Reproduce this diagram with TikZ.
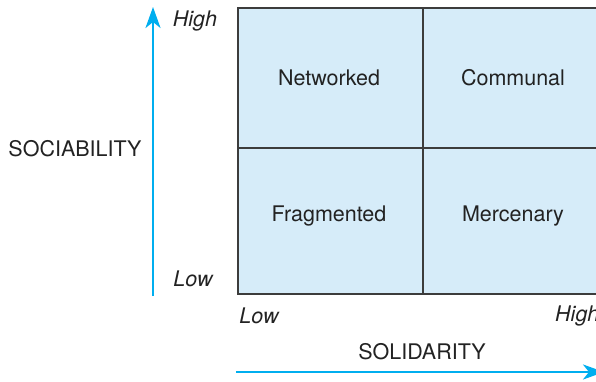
\documentclass[tikz,border=0pt]{standalone}
\usepackage{fontspec}
\setmainfont{TeX Gyre Heros}
\usetikzlibrary{arrows.meta}
\definecolor{cellblue}{HTML}{D6ECF9}
\definecolor{axisblue}{HTML}{00AEEF}
\definecolor{gridgray}{HTML}{3C3C3C}
\definecolor{txt}{HTML}{222222}
\tikzset{
  lbl/.style={font=\fontsize{21.5}{24}\selectfont, inner sep=0pt, text=txt},
  ilbl/.style={font=\fontsize{21.5}{24}\selectfont\itshape, inner sep=0pt, text=txt},
  axisarrow/.style={draw=axisblue, line width=2.6pt, -{Stealth[length=21pt,width=15pt,inset=6pt]}},
  gridline/.style={draw=gridgray, line width=1.4pt}
}
\begin{document}
\begin{tikzpicture}[x=1pt,y=-1pt]
\useasboundingbox (0,0) rectangle (596,381);
\clip (0,0) rectangle (596,381);
% quadrant grid
\fill[cellblue] (238,8) rectangle (620,294);
\draw[gridline] (620,8) -- (238,8) -- (238,294) -- (620,294);
\draw[gridline] (423,8) -- (423,294);
\draw[gridline] (238,148) -- (620,148);
% quadrant labels
\node[lbl] (net) at (329,78) {Networked};
\node[lbl] (com) at (513,78) {Communal};
\node[lbl] (fra) at (329,216) {Fragmented};
\node[lbl] (mer) at (513,216) {Mercenary};
% axes
\coordinate (vs) at (153,296);
\coordinate (ve) at (153,7);
\draw[axisarrow] (vs) -- (ve);
\coordinate (hs) at (236,372);
\coordinate (he) at (604,372);
\draw[axisarrow] (hs) -- (he);
% axis labels
\node[ilbl] (yhigh) at (195,21) {High};
\node[ilbl] (ylow) at (193,279) {Low};
\node[ilbl] (xlow) at (259,316) {Low};
\node[ilbl, anchor=west] (xhigh) at (555,316) {High};
\node[lbl] (soc) at (75,149) {SOCIABILITY};
\node[lbl] (sol) at (422,352) {SOLIDARITY};
\end{tikzpicture}
\end{document}
